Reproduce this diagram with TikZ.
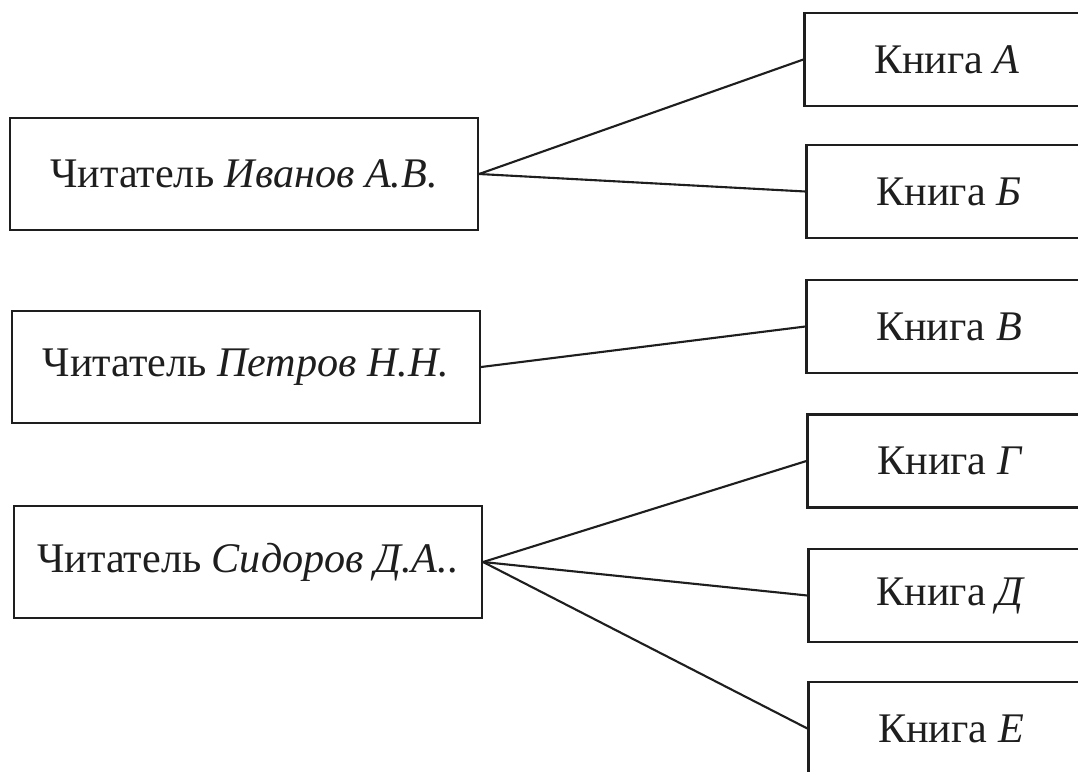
\documentclass[tikz,border=0pt]{standalone}
\usepackage{fontspec}
\setmainfont{Liberation Serif}
\definecolor{ink}{RGB}{30, 30, 30}
\usepackage{tikz}
\usetikzlibrary{positioning}

\begin{document}
\begin{tikzpicture}[x=0.02cm, y=-0.02cm, font=\fontsize{24}{28}\selectfont, text=ink,
    reader/.style={rectangle, draw=ink, line width=1.3pt, minimum width=9.36cm, minimum height=2.24cm, fill=white},
    book/.style={rectangle, draw=ink, line width=1.3pt, minimum width=5.7cm, minimum height=1.86cm, fill=white},
    link/.style={draw=ink, line width=1.2pt},
]
\fill[white] (0,0) rectangle (1078,771);
\clip (0,0) rectangle (1078,771);
\node[reader] (ivanov) at (244, 174) {Читатель \textit{Иванов А.В.}};
\node[reader] (petrov) at (246, 367) {Читатель \textit{Петров Н.Н.}};
\node[reader] (sidorov) at (248, 562) {Читатель \textit{Сидоров Д.А..}};
\node[book] (bA) at (947, 59.5) {Книга \textit{А}};
\node[book] (bB) at (949, 191.5) {Книга \textit{Б}};
\node[book] (bV) at (949, 326.5) {Книга \textit{В}};
\node[book] (bG) at (950, 461) {Книга \textit{Г}};
\node[book] (bD) at (951, 595.5) {Книга \textit{Д}};
\node[book] (bE) at (951, 728.5) {Книга \textit{Е}};
\draw[link] (ivanov.east) -- (bA.west);
\draw[link] (ivanov.east) -- (bB.west);
\draw[link] (petrov.east) -- (bV.west);
\draw[link] (sidorov.east) -- (bG.west);
\draw[link] (sidorov.east) -- (bD.west);
\draw[link] (sidorov.east) -- (bE.west);
\end{tikzpicture}
\end{document}
